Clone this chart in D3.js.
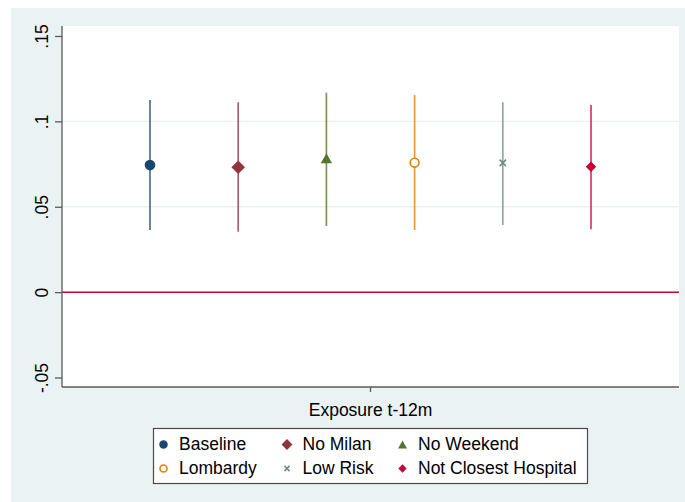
<!DOCTYPE html>
<html>
<head>
<meta charset="utf-8">
<script src="https://cdn.jsdelivr.net/npm/d3@7"></script>
<style>
  html, body { margin: 0; padding: 0; background: #ffffff; }
  svg { display: block; font-family: "Liberation Sans", Arial, sans-serif; }
</style>
</head>
<body>
<svg id="chart" width="685" height="502"></svg>
<script>
// Coefficient estimates with 95% confidence intervals, one per specification
const exposureLabel = ["Exposure t-12m"];
const seriesNames = ["Baseline", "No Milan", "No Weekend", "Lombardy", "Low Risk", "Not Closest Hospital"];
const estimates = [0.0744, 0.0731, 0.0784, 0.0758, 0.0757, 0.0734];
const ciLower   = [0.0364, 0.0354, 0.0387, 0.0364, 0.0393, 0.0368];
const ciUpper   = [0.1125, 0.1112, 0.1168, 0.1154, 0.1112, 0.1096];
const yTicks = [-0.05, 0, 0.05, 0.1, 0.15];
const yTickLabels = ["-.05", "0", ".05", ".1", ".15"];
const gridTicks = [0.05, 0.1];
const seriesColors = ["#1a476f", "#90353b", "#55752f", "#e37e00", "#6e8e84", "#c10534"];
const seriesSymbols = ["circle", "diamond", "triangle", "hollowCircle", "cross", "smallDiamond"];

const svg = d3.select("#chart");
const W = 685, H = 502;
const plot = { left: 62, right: 679, top: 26, bottom: 387 };
const fontSize = 17.5;

// graph region background
svg.append("rect").attr("x", 11).attr("y", 8).attr("width", W - 11).attr("height", H - 8)
  .attr("fill", "#eaf2f3");
// plot region
svg.append("rect").attr("x", plot.left).attr("y", plot.top)
  .attr("width", plot.right - plot.left).attr("height", plot.bottom - plot.top)
  .attr("fill", "#ffffff");

const y = d3.scaleLinear().domain([-0.05, 0.15]).range([377.5, 36]);
const xBand = d3.scaleBand().domain(exposureLabel).range([plot.left, plot.right]);
const center = xBand(exposureLabel[0]) + xBand.bandwidth() / 2;
const xInner = d3.scalePoint().domain(seriesNames).range([center - 220.5, center + 220.5]);

// grid lines
svg.append("g").selectAll("line").data(gridTicks).join("line")
  .attr("x1", plot.left).attr("x2", plot.right)
  .attr("y1", d => y(d)).attr("y2", d => y(d))
  .attr("stroke", "#eaf2f3").attr("stroke-width", 1.3);

// zero reference line
svg.append("line").attr("x1", plot.left).attr("x2", plot.right)
  .attr("y1", y(0)).attr("y2", y(0))
  .attr("stroke", "#c10534").attr("stroke-width", 1.5);

// y axis
const yAxis = svg.append("g").attr("transform", `translate(${plot.left},0)`)
  .call(d3.axisLeft(y).tickValues(yTicks).tickSize(7)
    .tickFormat((d, i) => yTickLabels[i]));
yAxis.select(".domain").remove();
yAxis.append("line").attr("x1", 0).attr("x2", 0).attr("y1", plot.top).attr("y2", plot.bottom)
  .attr("stroke", "#5a5a5a").attr("stroke-width", 1.3);
yAxis.selectAll(".tick line").attr("stroke", "#5a5a5a").attr("stroke-width", 1.3);
yAxis.selectAll(".tick text")
  .attr("fill", "#000").attr("font-size", fontSize)
  .attr("x", 0).attr("y", 0).attr("dy", 0)
  .attr("text-anchor", "middle")
  .attr("transform", "translate(-14,0) rotate(-90)");

// x axis
const xAxis = svg.append("g").attr("transform", `translate(0,${plot.bottom})`)
  .call(d3.axisBottom(xBand).tickSize(5).tickSizeOuter(0));
xAxis.select(".domain").remove();
xAxis.append("line").attr("x1", plot.left).attr("x2", plot.right).attr("y1", 0).attr("y2", 0)
  .attr("stroke", "#5a5a5a").attr("stroke-width", 1.3);
xAxis.selectAll(".tick line").attr("stroke", "#5a5a5a").attr("stroke-width", 1.3);
xAxis.selectAll(".tick text").attr("fill", "#000").attr("font-size", fontSize)
  .attr("y", 0).attr("dy", 0).attr("transform", "translate(0,29)");

// marker drawing
function drawMarker(g, type, color, scale) {
  const s = scale;
  if (type === "circle") {
    g.append("circle").attr("r", 5.3 * s).attr("fill", color);
  } else if (type === "hollowCircle") {
    g.append("circle").attr("r", 4.4 * s).attr("fill", "#fff")
      .attr("stroke", color).attr("stroke-width", 1.6);
  } else if (type === "diamond") {
    const r = 6.8 * s;
    g.append("path").attr("d", `M0,${-r}L${r},0L0,${r}L${-r},0Z`).attr("fill", color);
  } else if (type === "smallDiamond") {
    const r = 5.2 * s;
    g.append("path").attr("d", `M0,${-r}L${r},0L0,${r}L${-r},0Z`).attr("fill", color);
  } else if (type === "triangle") {
    const w = 5.6 * s, h = 10 * s;
    g.append("path").attr("d", `M0,${-h / 2}L${w},${h / 2}L${-w},${h / 2}Z`).attr("fill", color);
  } else if (type === "cross") {
    const r = 3.2 * s;
    g.append("path").attr("d", `M${-r},${-r}L${r},${r}M${-r},${r}L${r},${-r}`)
      .attr("stroke", color).attr("stroke-width", 1.6).attr("fill", "none");
  }
}

// confidence intervals and point estimates
const series = seriesNames.map((name, i) => ({
  name, est: estimates[i], lo: ciLower[i], hi: ciUpper[i],
  color: seriesColors[i], symbol: seriesSymbols[i]
}));

const marks = svg.append("g");
series.forEach(d => {
  const cx = xInner(d.name);
  marks.append("line").attr("x1", cx).attr("x2", cx)
    .attr("y1", y(d.lo)).attr("y2", y(d.hi))
    .attr("stroke", d.color).attr("stroke-opacity", 0.78).attr("stroke-width", 1.7);
  const g = marks.append("g").attr("transform", `translate(${cx},${y(d.est)})`);
  drawMarker(g, d.symbol, d.color, 1);
});

// legend
const legend = svg.append("g");
legend.append("rect").attr("x", 153.5).attr("y", 428.5).attr("width", 434).attr("height", 55)
  .attr("fill", "#fff").attr("stroke", "#4a4a4a").attr("stroke-width", 1.2);
const colX = [163.5, 287, 402.5];
const textX = [179, 302.5, 418];
const rowY = [444.5, 468.5];
series.forEach((d, i) => {
  const c = i % 3, r = Math.floor(i / 3);
  const g = legend.append("g").attr("transform", `translate(${colX[c]},${rowY[r]})`);
  drawMarker(g, d.symbol, d.color, 0.8);
  legend.append("text").attr("x", textX[c]).attr("y", rowY[r] + 5.5)
    .attr("font-size", fontSize).attr("fill", "#000").text(d.name);
});
</script>
</body>
</html>
